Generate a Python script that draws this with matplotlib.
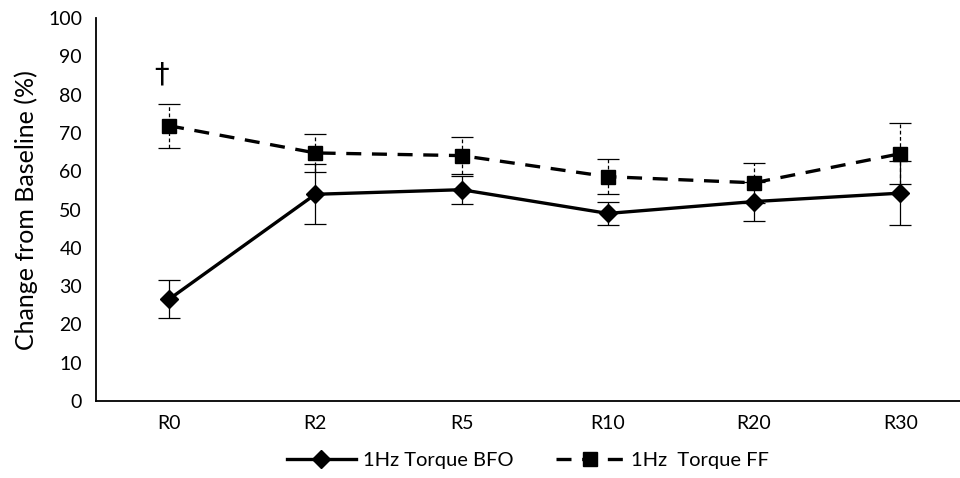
import matplotlib.pyplot as plt
from matplotlib.lines import Line2D
import numpy as np

plt.rcParams['font.family'] = ['Lato', 'DejaVu Sans']

# --- data ---
timepoints = ["R0", "R2", "R5", "R10", "R20", "R30"]

bfo_mean = [26.6, 54.0, 55.2, 49.0, 52.1, 54.3]
bfo_err = [5.0, 7.8, 3.7, 2.9, 5.2, 8.4]

ff_mean = [71.9, 64.8, 64.1, 58.6, 57.0, 64.6]
ff_err = [5.8, 5.0, 4.9, 4.5, 5.2, 7.9]

DASH = (0, (4.5, 3.2))

fig = plt.figure(figsize=(9.6, 4.78), dpi=100)
ax = fig.add_axes([0.1, 0.161, 0.914, 0.801])
x = np.arange(len(timepoints))

# solid series
ax.errorbar(x, bfo_mean, yerr=bfo_err, color="black", lw=2.4, marker="D",
            ms=9.5, elinewidth=0.9, capsize=8, capthick=0.9, zorder=3)

# dashed series with dashed error bars
ln, caps, bars = ax.errorbar(x, ff_mean, yerr=ff_err, color="black", lw=2.4,
                             ls=DASH, marker="s", ms=10.5,
                             elinewidth=0.9, capsize=8, capthick=0.9,
                             zorder=3)
for b in bars:
    b.set_linestyle((0, (3, 2)))

# significance mark
ax.text(x[0] - 0.05, 85.4, "\u2020", ha="center", va="center", fontsize=21,
        family=["DejaVu Sans"])

ax.set_xlim(-0.5, len(timepoints) - 0.5)
ax.set_ylim(0, 100)
ax.set_yticks(range(0, 101, 10))
ax.set_xticks(x)
ax.set_xticklabels(timepoints)
ax.tick_params(axis="both", length=0, labelsize=14, pad=10)
ax.set_ylabel("Change from Baseline (%)", fontsize=18, labelpad=7)

for s in ["top", "right"]:
    ax.spines[s].set_visible(False)
for s in ["left", "bottom"]:
    ax.spines[s].set_linewidth(1.3)

# legend without error bar glyphs
handles = [
    Line2D([], [], color="black", lw=2.4, marker="D", ms=9),
    Line2D([], [], color="black", lw=2.4, ls=DASH, marker="s", ms=10),
]
labels = ["1Hz Torque BFO", "1Hz  Torque FF"]
fig.legend(handles, labels, loc="lower center", bbox_to_anchor=(0.55, -0.02),
           ncol=2, frameon=False, fontsize=14.5, handlelength=3.4,
           columnspacing=2.1, handletextpad=0.35)

fig.savefig("out.png", dpi=100)
